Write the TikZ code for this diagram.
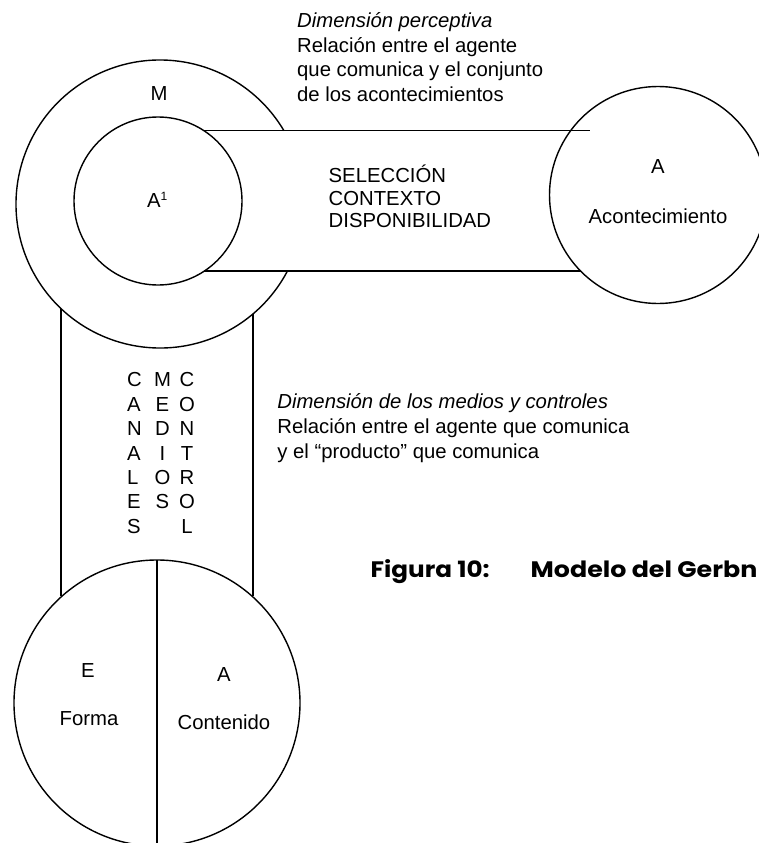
\documentclass[tikz,border=0pt]{standalone}
\usepackage{fontspec}
\setmainfont{Liberation Sans}
\newfontfamily\figfont{Poppins}
\begin{document}
\begin{tikzpicture}[x=1pt,y=1pt,line width=1.4pt,
  lbl/.style={inner sep=0pt, font=\fontsize{20.3}{24}\selectfont},
  figlbl/.style={inner sep=0pt, font=\figfont\bfseries\fontsize{22.4}{24}\selectfont},
  thinline/.style={line width=0.8pt}]
\useasboundingbox (0,0) rectangle (759,-843);
\clip (0,0) rectangle (759,-843);
% centres
\coordinate (Mc) at (160,-204);
\coordinate (Ac) at (158,-201);
\coordinate (Rc) at (658,-195);
\coordinate (Bc) at (157,-703);
% circles
\draw (Mc) ++(30.6:144) arc[start angle=30.6,end angle=332.3,radius=144];
\draw (Ac) circle[radius=84];
\draw (Rc) circle[radius=108.5];
\draw (Bc) circle[radius=143];
% horizontal band
\coordinate (t1) at (204,-130.7); \coordinate (t2) at (572,-130.7); \coordinate (t3) at (590,-130.7);
\coordinate (b1) at (204,-271); \coordinate (b2) at (581,-271);
\draw (t1) -- (t2);
\draw[thinline] (t2) -- (t3);
\draw (b1) -- (b2);
% vertical band
\coordinate (vl1) at (61,-308.6); \coordinate (vl2) at (61,-596);
\coordinate (vr1) at (253,-313.9); \coordinate (vr2) at (253,-596);
\draw (vl1) -- (vl2);
\draw (vr1) -- (vr2);
% divider
\coordinate (d1) at (157,-560); \coordinate (d2) at (157,-843);
\draw (d1) -- (d2);
% labels in circles
\node[lbl] (m) at (159,-93.3) {M};
\node[lbl, anchor=base west] (a1) at (146.5,-207) {A\raisebox{6.5pt}{\fontsize{12}{12}\selectfont 1}};
\node[lbl] (ra) at (658,-167) {A};
\node[lbl] (racont) at (658,-216.7) {Acontecimiento};
\node[lbl] (be) at (88,-671) {E};
\node[lbl] (bforma) at (89,-718.7) {Forma};
\node[lbl] (ba) at (224,-674.5) {A};
\node[lbl] (bcont) at (224,-722.5) {Contenido};
% band text
\node[lbl, anchor=base west] (sel1) at (328,-182.7) {SELECCIÓN};
\node[lbl, anchor=base west] (sel2) at (328,-205.2) {CONTEXTO};
\node[lbl, anchor=base west] (sel3) at (328,-227.7) {DISPONIBILIDAD};
% top annotation
\node[lbl, anchor=base west] (p1) at (296.5,-27.3) {\itshape Dimensión perceptiva};
\node[lbl, anchor=base west] (p2) at (296.5,-52.7) {Relación entre el agente};
\node[lbl, anchor=base west] (p3) at (296.5,-76.8) {que comunica y el conjunto};
\node[lbl, anchor=base west] (p4) at (296.5,-101.2) {de los acontecimientos};
% middle annotation
\node[lbl, anchor=base west] (q1) at (276.7,-408.3) {\itshape Dimensión de los medios y controles};
\node[lbl, anchor=base west] (q2) at (276.7,-433.4) {Relación entre el agente que comunica};
\node[lbl, anchor=base west] (q3) at (276.7,-458.3) {y el “producto” que comunica};
% vertical words
\foreach \l [count=\i] in {C,A,N,A,L,E,S}
  \node[lbl, anchor=base west] (c\i) at (126.5,{-386.7-24.45*(\i-1)}) {\l};
\foreach \l [count=\i] in {M,E,D,I,O,S}
  \node[lbl, anchor=base] (me\i) at (162.5,{-386.7-24.45*(\i-1)}) {\l};
\foreach \l [count=\i] in {C,O,N,T,R,O,L}
  \node[lbl, anchor=base] (co\i) at (187,{-386.7-24.45*(\i-1)}) {\l};
% caption
\node[figlbl, anchor=base west] (fig1) at (370,-577) {\scalebox{1.1}[1]{Figura 10:}};
\node[figlbl, anchor=base west] (fig2) at (530,-577) {\scalebox{1.13}[1]{Modelo del Gerbn}};
\end{tikzpicture}
\end{document}
